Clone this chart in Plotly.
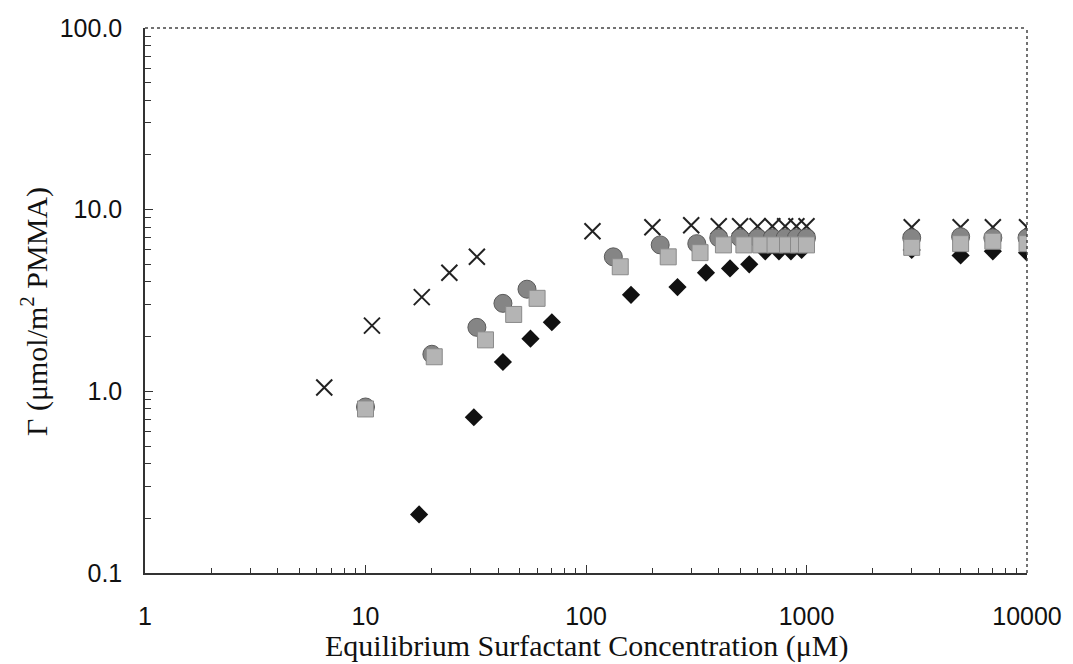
import plotly.graph_objects as go

# Adsorption isotherms of surfactant on PMMA (log-log)
cross_x = [6.5, 10.7, 18, 24, 32, 107, 200, 300, 400, 500, 600, 700, 800, 900, 1000, 3000, 5000, 7000, 10000]
cross_y = [1.05, 2.3, 3.3, 4.5, 5.5, 7.6, 8.0, 8.2, 8.1, 8.1, 8.1, 8.1, 8.1, 8.1, 8.1, 8.0, 8.0, 8.0, 8.0]

diamond_x = [17.5, 31, 42, 56, 70, 160, 260, 350, 450, 550, 650, 750, 850, 950, 3000, 5000, 7000, 10000]
diamond_y = [0.21, 0.72, 1.45, 1.95, 2.4, 3.4, 3.75, 4.5, 4.75, 5.0, 5.9, 5.9, 5.9, 6.0, 6.0, 5.6, 5.9, 5.8]

circle_x = [10, 20, 32, 42, 54, 133, 217, 318, 400, 500, 600, 700, 800, 900, 1000, 3000, 5000, 7000, 10000]
circle_y = [0.82, 1.6, 2.25, 3.05, 3.65, 5.5, 6.4, 6.5, 7.0, 7.0, 7.0, 7.0, 7.0, 7.0, 7.0, 7.0, 7.1, 7.0, 7.0]

square_x = [10, 20.5, 35, 47, 60, 143, 236, 329, 420, 520, 620, 720, 820, 920, 1000, 3000, 5000, 7000, 10000]
square_y = [0.8, 1.55, 1.92, 2.65, 3.25, 4.85, 5.5, 5.8, 6.4, 6.4, 6.4, 6.4, 6.4, 6.4, 6.4, 6.2, 6.5, 6.7, 6.5]

x_ticks = [1, 10, 100, 1000, 10000]
x_tick_text = ["1", "10", "100", "1000", "10000"]
y_ticks = [0.1, 1, 10, 100]
y_tick_text = ["0.1", "1.0", "10.0", "100.0"]

fig = go.Figure()

fig.add_trace(go.Scatter(
    x=cross_x, y=cross_y, mode="markers",
    marker=dict(symbol="x-thin", size=16, line=dict(color="#222222", width=2)),
))
fig.add_trace(go.Scatter(
    x=diamond_x, y=diamond_y, mode="markers",
    marker=dict(symbol="diamond", size=14, color="#111111", line=dict(width=0)),
))
fig.add_trace(go.Scatter(
    x=circle_x, y=circle_y, mode="markers",
    marker=dict(symbol="circle", size=18, color="#858585", line=dict(color="#5a5a5a", width=1)),
))
fig.add_trace(go.Scatter(
    x=square_x, y=square_y, mode="markers",
    marker=dict(symbol="square", size=16, color="#b4b4b4", line=dict(color="#8a8a8a", width=1)),
))

tick_font = dict(family="Liberation Sans, Arial, sans-serif", size=25, color="#111111")

fig.update_xaxes(
    type="log", range=[0, 4],
    tickvals=x_ticks, ticktext=x_tick_text,
    ticks="inside", ticklen=8, tickwidth=1.2, tickcolor="#333333",
    minor=dict(ticks="inside", ticklen=5, tickwidth=1, tickcolor="#333333", dtick="D1", showgrid=False),
    showline=True, linecolor="#333333", linewidth=1.5,
    showgrid=False, zeroline=False,
    tickfont=tick_font, ticklabelstandoff=20,
)
fig.update_yaxes(
    type="log", range=[-1, 2],
    tickvals=y_ticks, ticktext=y_tick_text,
    ticks="inside", ticklen=8, tickwidth=1.2, tickcolor="#333333",
    minor=dict(ticks="inside", ticklen=6, tickwidth=1, tickcolor="#333333", dtick="D1", showgrid=False),
    showline=True, linecolor="#333333", linewidth=1.5,
    showgrid=False, zeroline=False,
    tickfont=tick_font, ticklabelstandoff=16,
)

# dotted top and right borders of the frame
fig.add_shape(type="line", xref="paper", yref="paper", x0=0, x1=1, y0=1, y1=1,
              line=dict(color="#444444", width=1.5, dash="dot"))
fig.add_shape(type="line", xref="paper", yref="paper", x0=1, x1=1, y0=0, y1=1,
              line=dict(color="#444444", width=1.5, dash="dot"))

title_font = dict(family="Liberation Serif, Times New Roman, serif", size=30, color="#111111")
fig.add_annotation(
    text="Equilibrium Surfactant Concentration (μM)",
    xref="paper", yref="paper", x=0.5, y=0, yshift=-73,
    showarrow=False, font=title_font, xanchor="center", yanchor="middle",
)
fig.add_annotation(
    text="Γ (μmol/m<sup>2</sup> PMMA)",
    xref="paper", yref="paper", x=0, xshift=-110, y=0.479,
    showarrow=False, font=title_font, textangle=-90,
    xanchor="center", yanchor="middle",
)

fig.update_layout(
    width=1073, height=664,
    margin=dict(l=145, r=46, t=28, b=91),
    paper_bgcolor="white", plot_bgcolor="white",
    showlegend=False,
)

fig.write_html("out.html")
